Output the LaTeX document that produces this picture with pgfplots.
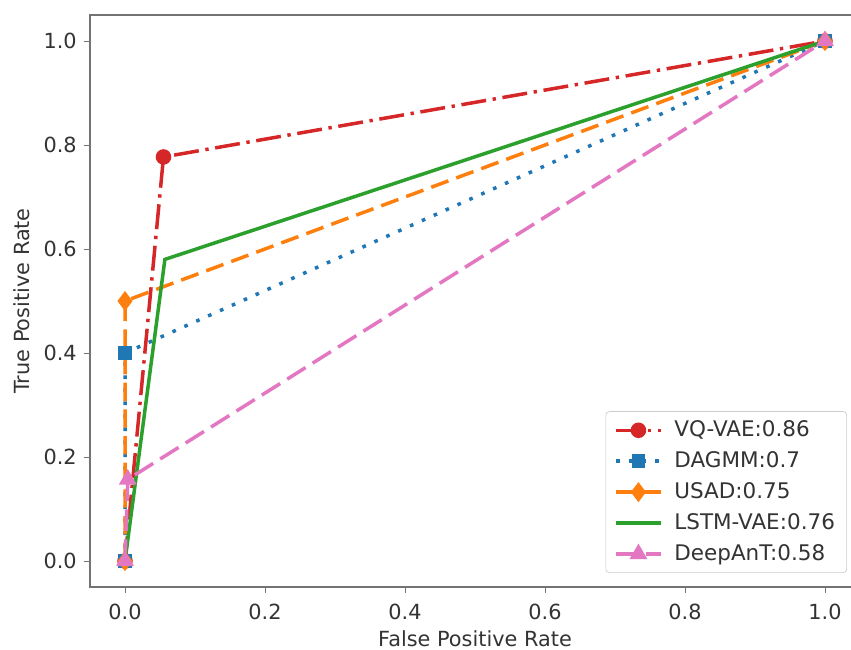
\documentclass[border=0pt]{standalone}
\usepackage{pgfplots}
\pgfplotsset{compat=1.18}
\usepackage{fontspec}
\setmainfont{DejaVu Sans}
\definecolor{tabred}{HTML}{D62728}
\definecolor{tabblue}{HTML}{1F77B4}
\definecolor{taborange}{HTML}{FF7F0E}
\definecolor{tabgreen}{HTML}{2CA02C}
\definecolor{tabpink}{HTML}{E377C2}
\begin{document}
\fontsize{12.5}{15}\selectfont
\begin{tikzpicture}
\path[use as bounding box, clip] (0,0) rectangle (510.6pt,389.4pt);
\begin{axis}[
  at={(54pt,37.2pt)}, anchor=south west, scale only axis,
  width=462pt, height=343.2pt,
  xmin=-0.05, xmax=1.05, ymin=-0.05, ymax=1.05,
  xtick={0,0.2,0.4,0.6,0.8,1.0},
  ytick={0,0.2,0.4,0.6,0.8,1.0},
  /pgf/number format/assume math mode=true,
  /pgf/number format/.cd, fixed, fixed zerofill, precision=1, /pgfplots/.cd,
  tick align=outside, tick pos=left,
  major tick length=3.6pt,
  axis line style={black!55, line width=0.8pt},
  tick style={black!55, line width=0.6pt},
  ticklabel style={text=black!80},
  xticklabel style={yshift=-2pt},
  label style={text=black!80},
  xlabel={False Positive Rate}, ylabel={True Positive Rate},
  xlabel style={yshift=2pt},
  legend cell align=left,
  legend style={at={(0.983,0.0245)}, anchor=south east, draw=black!20,
    rounded corners=2pt, fill=white, text=black!80,
    font=\fontsize{12.9}{14}\selectfont, row sep=3.1pt, column sep=5pt,
    inner xsep=5pt, inner ysep=3.5pt},
  legend image code/.code={\draw[mark repeat=2,mark phase=2] plot coordinates {(0pt,0pt)(13.5pt,0pt)(27pt,0pt)};},
  every axis plot/.append style={line width=2.1pt},
]
\addplot[color=tabred, dash pattern=on 15pt off 4pt on 2pt off 4pt, mark=*, mark size=3.6pt, mark options={solid}]
  coordinates {(0,0) (0.055,0.777) (1,1)};
\addlegendentry{VQ-VAE:0.86}
\addplot[color=tabblue, dash pattern=on 2.2pt off 5.6pt, mark=square*, mark size=3.1pt, mark options={solid}]
  coordinates {(0,0) (0,0.40) (1,1)};
\addlegendentry{DAGMM:0.7}
\addplot[color=taborange, dash pattern=on 11pt off 5pt, mark=diamond*, mark size=4.3pt, mark options={solid}]
  coordinates {(0,0) (0,0.50) (1,1)};
\addlegendentry{USAD:0.75}
\addplot[color=tabgreen, solid, mark=none]
  coordinates {(0,0) (0.057,0.58) (1,1)};
\addlegendentry{LSTM-VAE:0.76}
\addplot[color=tabpink, dash pattern=on 13pt off 5pt, mark=triangle*, mark size=4.1pt, mark options={solid}]
  coordinates {(0,0) (0.004,0.157) (1,1)};
\addlegendentry{DeepAnT:0.58}
\end{axis}
\end{tikzpicture}
\end{document}
